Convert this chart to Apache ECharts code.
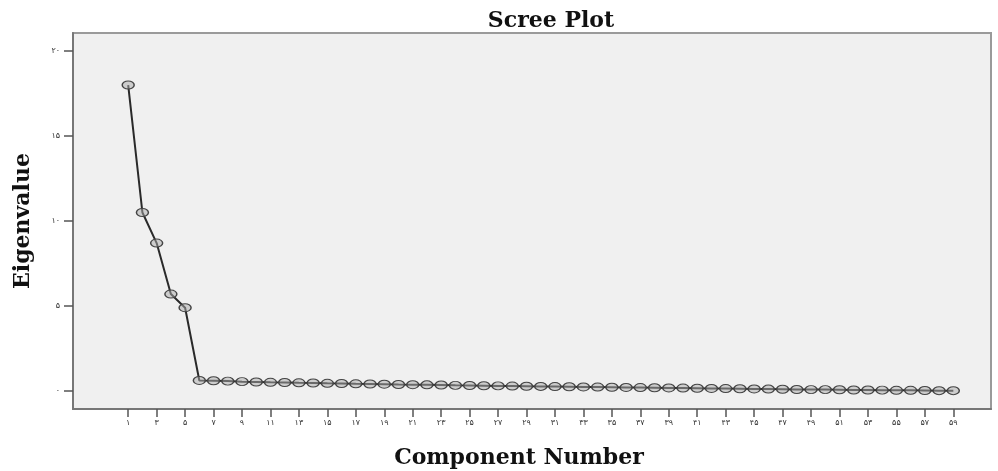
<!DOCTYPE html>
<html>
<head>
<meta charset="utf-8">
<script src="https://cdn.jsdelivr.net/npm/echarts@6/dist/echarts.min.js"></script>
<style>html,body{margin:0;padding:0;background:#fff;}#c{width:998px;height:471px;}</style>
</head>
<body>
<div id="c"></div>
<script>
var components = [1,2,3,4,5,6,7,8,9,10,11,12,13,14,15,16,17,18,19,20,21,22,23,24,25,26,27,28,29,30,31,32,33,34,35,36,37,38,39,40,41,42,43,44,45,46,47,48,49,50,51,52,53,54,55,56,57,58,59];
var eigenvalues = [18.0,10.5,8.7,5.7,4.9,0.62,0.6,0.58,0.55,0.53,0.51,0.5,0.48,0.47,0.45,0.44,0.42,0.41,0.4,0.38,0.37,0.36,0.35,0.33,0.32,0.31,0.3,0.29,0.28,0.27,0.26,0.25,0.24,0.23,0.22,0.21,0.2,0.19,0.18,0.17,0.16,0.15,0.14,0.13,0.12,0.11,0.1,0.09,0.08,0.08,0.07,0.06,0.06,0.05,0.04,0.04,0.03,0.02,0.02];
var xTickValues = [1,3,5,7,9,11,13,15,17,19,21,23,25,27,29,31,33,35,37,39,41,43,45,47,49,51,53,55,57,59];
var xTickLabels = ['۱','۳','۵','۷','۹','۱۱','۱۳','۱۵','۱۷','۱۹','۲۱','۲۳','۲۵','۲۷','۲۹','۳۱','۳۳','۳۵','۳۷','۳۹','۴۱','۴۳','۴۵','۴۷','۴۹','۵۱','۵۳','۵۵','۵۷','۵۹'];
var yTickValues = [0,5,10,15,20];
var yTickLabels = ['۰','۵','۱۰','۱۵','۲۰'];

var chart = echarts.init(document.getElementById('c'));
var pts = components.map(function(c,i){return [c, eigenvalues[i]];});
var nameFont = {fontFamily: 'DejaVu Serif', fontWeight: 'bold', fontSize: 22, color: '#111'};
chart.setOption({
  animation: false,
  backgroundColor: '#ffffff',
  title: {
    text: 'Scree Plot', left: 546, top: 5, textAlign: 'center',
    textStyle: nameFont
  },
  grid: {left: 73, right: 7, top: 33, bottom: 62, outerBoundsMode: 'none', containLabel: false,
    show: true, backgroundColor: '#f0f0f0', borderColor: '#9a9a9a', borderWidth: 2},
  xAxis: {
    type: 'value', min: -2.88, max: 61.65,
    name: 'Component Number', nameLocation: 'middle', nameGap: 38,
    nameTextStyle: Object.assign({padding: [0, 26, 0, 0]}, nameFont),
    axisLine: {show: true, onZero: false, lineStyle: {color: '#777', width: 2}},
    axisTick: {show: true, length: 8, customValues: xTickValues, lineStyle: {color: '#555', width: 1.5}},
    axisLabel: {customValues: xTickValues, margin: 10, fontSize: 8, color: '#333', fontFamily: 'DejaVu Sans',
      formatter: function(v){var i = xTickValues.indexOf(v); return i >= 0 ? xTickLabels[i] : '';}},
    splitLine: {show: false}
  },
  yAxis: {
    type: 'value', min: -1.06, max: 21.06,
    name: 'Eigenvalue', nameLocation: 'middle', nameGap: 39, nameRotate: 90,
    nameTextStyle: nameFont,
    axisLine: {show: true, onZero: false, lineStyle: {color: '#777', width: 2}},
    axisTick: {show: true, length: 9, customValues: yTickValues, lineStyle: {color: '#555', width: 1.5}},
    axisLabel: {customValues: yTickValues, margin: 13, fontSize: 8, color: '#333', fontFamily: 'DejaVu Sans',
      formatter: function(v){var i = yTickValues.indexOf(v); return i >= 0 ? yTickLabels[i] : '';}},
    splitLine: {show: false}
  },
  series: [{
    type: 'line', data: pts,
    lineStyle: {color: '#2a2a2a', width: 2},
    symbol: 'circle', symbolSize: [12, 8],
    itemStyle: {color: 'rgba(170,170,170,0.5)', borderColor: '#444', borderWidth: 1.2}
  }]
});
</script>
</body>
</html>
